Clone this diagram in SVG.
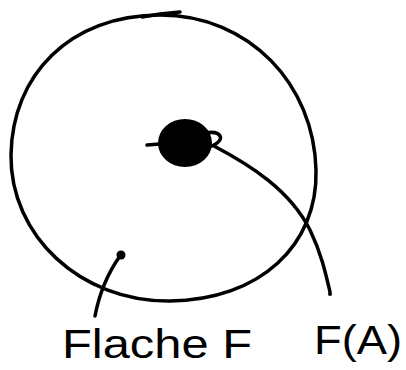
<svg xmlns="http://www.w3.org/2000/svg" width="406" height="370" viewBox="0 0 406 370">
<style>
.s{fill:none;stroke:#000;stroke-width:3.5;stroke-linecap:round;stroke-linejoin:round}
.t{font-family:"Liberation Sans",Arial,sans-serif;font-size:40px;fill:#000}
</style>
<rect width="406" height="370" fill="#fff"/>
<g id="region">
<path class="s" d="M160,15 C70,15 12,75 11,155 C10,235 80,302 170,301 C260,300 318,245 316,170 C314,85 250,15 160,15 Z"/>
<path class="s" d="M142,17 L160,14 L180,12" stroke-width="5"/>
</g>
<g id="point-A">
<ellipse cx="185" cy="143" rx="27" ry="24" fill="#000"/>
<path class="s" d="M147,145 L160,144"/>
<path class="s" d="M205,133 C222,130 226,140 212,146"/>
</g>
<g id="connectors">
<path class="s" d="M214,146 C250,165 290,190 310,230 C322,255 326,275 330,292"/>
<path class="s" d="M120,256 C110,270 100,290 95,316"/>
<circle cx="121" cy="255" r="4.5" fill="#000"/>
<circle cx="330" cy="294" r="2" fill="#000"/>
</g>
<g id="label-F">
<text class="t" x="62" y="358" textLength="190" lengthAdjust="spacingAndGlyphs">Flache F</text>
</g>
<g id="label-FA">
<text class="t" x="314" y="354" textLength="88" lengthAdjust="spacingAndGlyphs">F(A)</text>
</g>
</svg>
